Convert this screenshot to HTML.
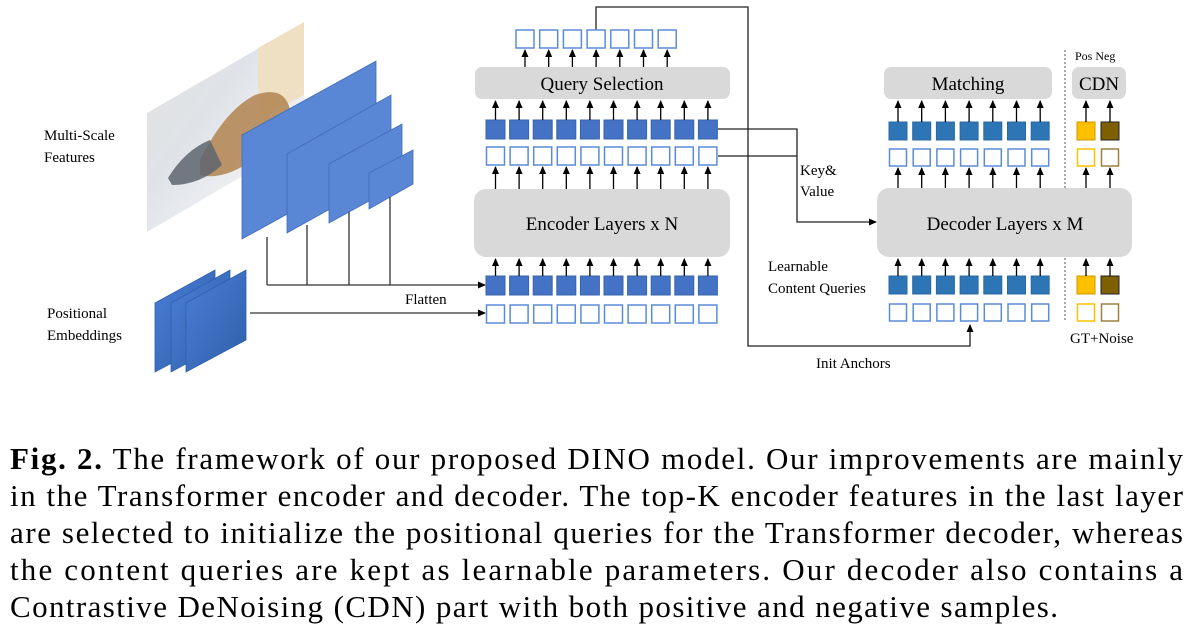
<!DOCTYPE html>
<html><head><meta charset="utf-8"><style>
html,body{margin:0;padding:0;background:#fff;}
svg{display:block;}
text{font-family:"Liberation Serif",serif;}
</style></head><body>
<svg width="1196" height="628" viewBox="0 0 1196 628" xmlns="http://www.w3.org/2000/svg">
<defs>
<marker id="ah" markerWidth="8" markerHeight="8" refX="7" refY="4" orient="auto" markerUnits="userSpaceOnUse">
<path d="M0,0.5 L8,4 L0,7.5 z" fill="#000"/></marker>
<linearGradient id="photo" x1="0" y1="0" x2="1" y2="1">
<stop offset="0" stop-color="#e4e2de"/><stop offset="0.4" stop-color="#dfe3e8"/><stop offset="0.7" stop-color="#eef0f3"/><stop offset="1" stop-color="#fafbfc"/></linearGradient>
<linearGradient id="pe" x1="0" y1="0" x2="1" y2="1"><stop offset="0" stop-color="#4a7fd8"/><stop offset="1" stop-color="#2f5fa8"/></linearGradient>
</defs>

<!-- photo -->
<polygon points="147,113 304,22 304,140 147,232" fill="url(#photo)"/>
<polygon points="258,48 304,22 304,95 258,120" fill="#efe0c4"/>
<path d="M200,160 Q225,110 255,95 Q285,85 290,110 L245,165 Q220,180 200,175 Z" fill="#b48a58" opacity="0.9"/>
<path d="M168,178 Q185,150 210,140 L222,165 Q200,185 172,185 Z" fill="#5e6470" opacity="0.85"/>
<!-- feature planes -->
<polygon points="242,135 376,61 376,165 242,239" fill="#5a86d6" stroke="#3f6bb8" stroke-width="0.8"/>
<polygon points="287,154 391,95 391,175 287,233" fill="#5a86d6" stroke="#3f6bb8" stroke-width="0.8"/>
<polygon points="329,164 402,124 402,183 329,223" fill="#5a86d6" stroke="#3f6bb8" stroke-width="0.8"/>
<polygon points="369,173 413,150 413,184 369,209" fill="#5a86d6" stroke="#3f6bb8" stroke-width="0.8"/>
<g stroke="#333" stroke-width="1.3" fill="none">
<line x1="267" y1="237" x2="267" y2="285"/>
<line x1="307" y1="225" x2="307" y2="285"/>
<line x1="349" y1="212" x2="349" y2="285"/>
<line x1="390" y1="197" x2="390" y2="285"/>
<line x1="267" y1="285" x2="485" y2="285" marker-end="url(#ah)"/>
<line x1="250" y1="313" x2="485" y2="313" marker-end="url(#ah)"/>
</g>
<!-- positional planes -->
<polygon points="155,303 215,270 215,340 155,372" fill="url(#pe)" stroke="#2f5fa8" stroke-width="0.8"/>
<polygon points="171,303 230,270 230,340 171,372" fill="url(#pe)" stroke="#2f5fa8" stroke-width="0.8"/>
<polygon points="186,303 246,270 246,340 186,372" fill="url(#pe)" stroke="#2f5fa8" stroke-width="0.8"/>

<g font-size="15" fill="#000">
<text x="44" y="140">Multi-Scale</text>
<text x="44" y="162">Features</text>
<text x="47" y="318">Positional</text>
<text x="47" y="340">Embeddings</text>
<text x="405" y="304">Flatten</text>
<text x="800" y="175">Key&amp;</text>
<text x="800" y="196">Value</text>
<text x="768" y="271">Learnable</text>
<text x="768" y="293">Content Queries</text>
<text x="816" y="368">Init Anchors</text>
<text x="1070" y="343">GT+Noise</text>
<text x="1075" y="60" font-size="12">Pos Neg</text>
</g>

<!-- boxes -->
<rect x="475" y="67" width="255" height="32" rx="7" fill="#d9d9d9"/>
<text x="602" y="90" font-size="19" text-anchor="middle">Query Selection</text>
<rect x="474" y="189" width="256" height="68" rx="12" fill="#d9d9d9"/>
<text x="602" y="230" font-size="19" text-anchor="middle">Encoder Layers x N</text>
<rect x="884" y="67" width="168" height="32" rx="7" fill="#d9d9d9"/>
<text x="968" y="90" font-size="19" text-anchor="middle">Matching</text>
<rect x="1072" y="67" width="54" height="32" rx="7" fill="#d9d9d9"/>
<text x="1099" y="90" font-size="19" text-anchor="middle">CDN</text>
<line x1="1065" y1="50" x2="1065" y2="320" stroke="#555" stroke-width="1" stroke-dasharray="2,2"/>
<rect x="877" y="188" width="255" height="69" rx="12" fill="#d9d9d9"/>
<text x="1005" y="230" font-size="19" text-anchor="middle">Decoder Layers x M</text>

<!-- connectors -->
<g stroke="#222" stroke-width="1.3" fill="none">
<polyline points="596,30 596,7 748,7 748,346 970,346 970,325" marker-end="url(#ah)"/>
<polyline points="718,129 797,129 797,222 876,222" marker-end="url(#ah)"/>
<polyline points="718,156 797,156"/>
</g>

<!-- encoder squares -->
<g fill="#4472c4" stroke="#3a63ad" stroke-width="1">
<rect x="486" y="120" width="19" height="19"/><rect x="509.6" y="120" width="19" height="19"/><rect x="533.2" y="120" width="19" height="19"/><rect x="556.8" y="120" width="19" height="19"/><rect x="580.4" y="120" width="19" height="19"/><rect x="604" y="120" width="19" height="19"/><rect x="627.6" y="120" width="19" height="19"/><rect x="651.2" y="120" width="19" height="19"/><rect x="674.8" y="120" width="19" height="19"/><rect x="698.4" y="120" width="19" height="19"/>
<rect x="486" y="276" width="19" height="19"/><rect x="509.6" y="276" width="19" height="19"/><rect x="533.2" y="276" width="19" height="19"/><rect x="556.8" y="276" width="19" height="19"/><rect x="580.4" y="276" width="19" height="19"/><rect x="604" y="276" width="19" height="19"/><rect x="627.6" y="276" width="19" height="19"/><rect x="651.2" y="276" width="19" height="19"/><rect x="674.8" y="276" width="19" height="19"/><rect x="698.4" y="276" width="19" height="19"/>
</g>
<g fill="#fff" stroke="#5b8bd8" stroke-width="1.5">
<rect x="486.5" y="147" width="18" height="18"/><rect x="510.1" y="147" width="18" height="18"/><rect x="533.7" y="147" width="18" height="18"/><rect x="557.3" y="147" width="18" height="18"/><rect x="580.9" y="147" width="18" height="18"/><rect x="604.5" y="147" width="18" height="18"/><rect x="628.1" y="147" width="18" height="18"/><rect x="651.7" y="147" width="18" height="18"/><rect x="675.3" y="147" width="18" height="18"/><rect x="698.9" y="147" width="18" height="18"/>
<rect x="486.5" y="305" width="18" height="18"/><rect x="510.1" y="305" width="18" height="18"/><rect x="533.7" y="305" width="18" height="18"/><rect x="557.3" y="305" width="18" height="18"/><rect x="580.9" y="305" width="18" height="18"/><rect x="604.5" y="305" width="18" height="18"/><rect x="628.1" y="305" width="18" height="18"/><rect x="651.7" y="305" width="18" height="18"/><rect x="675.3" y="305" width="18" height="18"/><rect x="698.9" y="305" width="18" height="18"/>
<rect x="516" y="30" width="18" height="18"/><rect x="539.7" y="30" width="18" height="18"/><rect x="563.4" y="30" width="18" height="18"/><rect x="587.1" y="30" width="18" height="18"/><rect x="610.8" y="30" width="18" height="18"/><rect x="634.5" y="30" width="18" height="18"/><rect x="658.2" y="30" width="18" height="18"/>
</g>
<g stroke="#000" stroke-width="1.3" marker-end="url(#ah)">
<line x1="495.5" y1="120" x2="495.5" y2="101"/><line x1="519.1" y1="120" x2="519.1" y2="101"/><line x1="542.7" y1="120" x2="542.7" y2="101"/><line x1="566.3" y1="120" x2="566.3" y2="101"/><line x1="589.9" y1="120" x2="589.9" y2="101"/><line x1="613.5" y1="120" x2="613.5" y2="101"/><line x1="637.1" y1="120" x2="637.1" y2="101"/><line x1="660.7" y1="120" x2="660.7" y2="101"/><line x1="684.3" y1="120" x2="684.3" y2="101"/><line x1="707.9" y1="120" x2="707.9" y2="101"/>
<line x1="495.5" y1="189" x2="495.5" y2="167"/><line x1="519.1" y1="189" x2="519.1" y2="167"/><line x1="542.7" y1="189" x2="542.7" y2="167"/><line x1="566.3" y1="189" x2="566.3" y2="167"/><line x1="589.9" y1="189" x2="589.9" y2="167"/><line x1="613.5" y1="189" x2="613.5" y2="167"/><line x1="637.1" y1="189" x2="637.1" y2="167"/><line x1="660.7" y1="189" x2="660.7" y2="167"/><line x1="684.3" y1="189" x2="684.3" y2="167"/><line x1="707.9" y1="189" x2="707.9" y2="167"/>
<line x1="495.5" y1="276" x2="495.5" y2="259"/><line x1="519.1" y1="276" x2="519.1" y2="259"/><line x1="542.7" y1="276" x2="542.7" y2="259"/><line x1="566.3" y1="276" x2="566.3" y2="259"/><line x1="589.9" y1="276" x2="589.9" y2="259"/><line x1="613.5" y1="276" x2="613.5" y2="259"/><line x1="637.1" y1="276" x2="637.1" y2="259"/><line x1="660.7" y1="276" x2="660.7" y2="259"/><line x1="684.3" y1="276" x2="684.3" y2="259"/><line x1="707.9" y1="276" x2="707.9" y2="259"/>
<line x1="525" y1="67" x2="525" y2="50"/><line x1="548.7" y1="67" x2="548.7" y2="50"/><line x1="572.4" y1="67" x2="572.4" y2="50"/><line x1="596.1" y1="67" x2="596.1" y2="50"/><line x1="619.8" y1="67" x2="619.8" y2="50"/><line x1="643.5" y1="67" x2="643.5" y2="50"/><line x1="667.2" y1="67" x2="667.2" y2="50"/>
</g>

<!-- decoder squares -->
<g fill="#2e75b6" stroke="#2a68a3" stroke-width="1">
<rect x="889" y="122" width="18" height="18"/><rect x="912.7" y="122" width="18" height="18"/><rect x="936.4" y="122" width="18" height="18"/><rect x="960.1" y="122" width="18" height="18"/><rect x="983.8" y="122" width="18" height="18"/><rect x="1007.5" y="122" width="18" height="18"/><rect x="1031.2" y="122" width="18" height="18"/>
<rect x="889" y="276" width="18" height="18"/><rect x="912.7" y="276" width="18" height="18"/><rect x="936.4" y="276" width="18" height="18"/><rect x="960.1" y="276" width="18" height="18"/><rect x="983.8" y="276" width="18" height="18"/><rect x="1007.5" y="276" width="18" height="18"/><rect x="1031.2" y="276" width="18" height="18"/>
</g>
<g fill="#fff" stroke="#5b8bd8" stroke-width="1.5">
<rect x="889.5" y="149" width="17" height="17"/><rect x="913.2" y="149" width="17" height="17"/><rect x="936.9" y="149" width="17" height="17"/><rect x="960.6" y="149" width="17" height="17"/><rect x="984.3" y="149" width="17" height="17"/><rect x="1008" y="149" width="17" height="17"/><rect x="1031.7" y="149" width="17" height="17"/>
<rect x="889.5" y="304" width="17" height="17"/><rect x="913.2" y="304" width="17" height="17"/><rect x="936.9" y="304" width="17" height="17"/><rect x="960.6" y="304" width="17" height="17"/><rect x="984.3" y="304" width="17" height="17"/><rect x="1008" y="304" width="17" height="17"/><rect x="1031.7" y="304" width="17" height="17"/>
</g>
<rect x="1077" y="122" width="18" height="18" fill="#ffc000" stroke="#c99700"/>
<rect x="1101" y="122" width="18" height="18" fill="#7f6000" stroke="#222"/>
<rect x="1077" y="276" width="18" height="18" fill="#ffc000" stroke="#c99700"/>
<rect x="1101" y="276" width="18" height="18" fill="#7f6000" stroke="#222"/>
<rect x="1077.5" y="149" width="17" height="17" fill="#fff" stroke="#ffc000" stroke-width="1.5"/>
<rect x="1101.5" y="149" width="17" height="17" fill="#fff" stroke="#9c8040" stroke-width="1.5"/>
<rect x="1077.5" y="304" width="17" height="17" fill="#fff" stroke="#ffc000" stroke-width="1.5"/>
<rect x="1101.5" y="304" width="17" height="17" fill="#fff" stroke="#9c8040" stroke-width="1.5"/>
<g stroke="#000" stroke-width="1.3" marker-end="url(#ah)">
<line x1="898" y1="122" x2="898" y2="101"/><line x1="921.7" y1="122" x2="921.7" y2="101"/><line x1="945.4" y1="122" x2="945.4" y2="101"/><line x1="969.1" y1="122" x2="969.1" y2="101"/><line x1="992.8" y1="122" x2="992.8" y2="101"/><line x1="1016.5" y1="122" x2="1016.5" y2="101"/><line x1="1040.2" y1="122" x2="1040.2" y2="101"/>
<line x1="898" y1="188" x2="898" y2="168"/><line x1="921.7" y1="188" x2="921.7" y2="168"/><line x1="945.4" y1="188" x2="945.4" y2="168"/><line x1="969.1" y1="188" x2="969.1" y2="168"/><line x1="992.8" y1="188" x2="992.8" y2="168"/><line x1="1016.5" y1="188" x2="1016.5" y2="168"/><line x1="1040.2" y1="188" x2="1040.2" y2="168"/>
<line x1="898" y1="276" x2="898" y2="259"/><line x1="921.7" y1="276" x2="921.7" y2="259"/><line x1="945.4" y1="276" x2="945.4" y2="259"/><line x1="969.1" y1="276" x2="969.1" y2="259"/><line x1="992.8" y1="276" x2="992.8" y2="259"/><line x1="1016.5" y1="276" x2="1016.5" y2="259"/><line x1="1040.2" y1="276" x2="1040.2" y2="259"/>
<line x1="1086" y1="122" x2="1086" y2="101"/><line x1="1110" y1="122" x2="1110" y2="101"/>
<line x1="1086" y1="188" x2="1086" y2="168"/><line x1="1110" y1="188" x2="1110" y2="168"/>
<line x1="1086" y1="276" x2="1086" y2="259"/><line x1="1110" y1="276" x2="1110" y2="259"/>
</g>

<!-- caption -->
<g font-size="31" fill="#000">
<text x="10" y="469" textLength="1173" lengthAdjust="spacing"><tspan font-weight="bold">Fig. 2.</tspan> The framework of our proposed DINO model. Our improvements are mainly</text>
<text x="10" y="506" textLength="1173" lengthAdjust="spacing">in the Transformer encoder and decoder. The top-K encoder features in the last layer</text>
<text x="10" y="543" textLength="1173" lengthAdjust="spacing">are selected to initialize the positional queries for the Transformer decoder, whereas</text>
<text x="10" y="580" textLength="1173" lengthAdjust="spacing">the content queries are kept as learnable parameters. Our decoder also contains a</text>
<text x="10" y="617" textLength="1048" lengthAdjust="spacing">Contrastive DeNoising (CDN) part with both positive and negative samples.</text>
</g>
</svg>
</body></html>
